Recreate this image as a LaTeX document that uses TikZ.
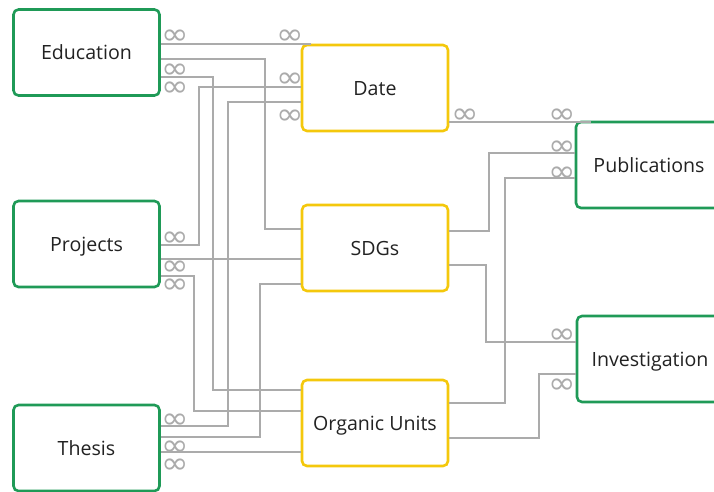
\documentclass[tikz,border=0pt]{standalone}
\usepackage{fontspec}
\setmainfont{Open Sans}
\newfontfamily\symfont{DejaVu Sans}
\usetikzlibrary{calc}
\definecolor{boxgreen}{HTML}{1F9A57}
\definecolor{boxyellow}{HTML}{F4C80C}
\definecolor{linkgray}{HTML}{ABABAB}
\definecolor{labeltext}{HTML}{222222}
\tikzset{
  entity/.style={draw, line width=2.6pt, rounded corners=5pt, fill=white,
    minimum width=146pt, minimum height=86pt, inner sep=0pt,
    text height=14pt, text depth=0pt,
    text=labeltext, font=\fontsize{19.6}{22}\selectfont},
  mainbox/.style={entity, draw=boxgreen},
  linkbox/.style={entity, draw=boxyellow},
  link/.style={draw=linkgray, line width=1.5pt},
  many/.style={text=linkgray, inner sep=0pt, text height=6pt, text depth=0pt,
    yshift=-7pt, xscale=1.1, font=\symfont\fontsize{30}{30}\selectfont}
}
\begin{document}
\begin{tikzpicture}[x=1pt, y=-1pt]
\useasboundingbox (0,0) rectangle (714,491);

% entities
\node[mainbox] (edu)    at (86.5,52.5) {Education};
\node[mainbox] (proj)   at (86.5,244)  {Projects};
\node[mainbox] (thesis) at (86.5,448)  {Thesis};
\node[linkbox] (date)   at (375,88)    {Date};
\node[linkbox] (sdg)    at (375,248)   {SDGs};
\node[linkbox] (ou)     at (375,423)   {Organic Units};
\node[mainbox] (pub)    at (649,165)   {Publications};
\node[mainbox] (inv)    at (650,359)   {Investigation};

% relations, left side
\draw[link] (edu.east |- 0,44) -- ($(date.north west |- 0,44)+(10,0)$);
\draw[link] (edu.east |- 0,59) -| (265,229) -- (sdg.west |- 0,229);
\draw[link] (edu.east |- 0,77) -| (213,390) -- (ou.west |- 0,390);
\draw[link] (proj.east |- 0,245) -| (199,87) -- (date.west |- 0,87);
\draw[link] (thesis.east |- 0,426) -| (228,102) -- (date.west |- 0,102);
\draw[link] (proj.east |- 0,259) -- (sdg.west |- 0,259);
\draw[link] (proj.east |- 0,276) -| (194,411) -- (ou.west |- 0,411);
\draw[link] (thesis.east |- 0,437) -| (260,284) -- (sdg.west |- 0,284);
\draw[link] (thesis.east |- 0,452) -- (ou.west |- 0,452);

% relations, right side
\draw[link] (date.east |- 0,122) -- ($(pub.north west |- 0,122)+(16,0)$);
\draw[link] (sdg.east |- 0,231) -| (489,153) -- (pub.west |- 0,153);
\draw[link] (ou.east |- 0,403) -| (505,178) -- (pub.west |- 0,178);
\draw[link] (sdg.east |- 0,265) -| (486,342) -- (inv.west |- 0,342);
\draw[link] (ou.east |- 0,438) -| (539,374) -- (inv.west |- 0,374);

% cardinality marks
\node[many] (m1)  at (175,34)  {∞};
\node[many] (m2)  at (175,68)  {∞};
\node[many] (m3)  at (175,86)  {∞};
\node[many] (m4)  at (290,34)  {∞};
\node[many] (m5)  at (290,77)  {∞};
\node[many] (m6)  at (290,114) {∞};
\node[many] (m7)  at (175,236) {∞};
\node[many] (m8)  at (175,265) {∞};
\node[many] (m9)  at (175,283) {∞};
\node[many] (m10) at (175,418) {∞};
\node[many] (m11) at (175,445) {∞};
\node[many] (m12) at (175,463) {∞};
\node[many] (m13) at (465,113) {∞};
\node[many] (m14) at (562,113) {∞};
\node[many] (m15) at (562,145) {∞};
\node[many] (m16) at (562,171) {∞};
\node[many] (m17) at (562,333) {∞};
\node[many] (m18) at (562,383) {∞};
\end{tikzpicture}
\end{document}
